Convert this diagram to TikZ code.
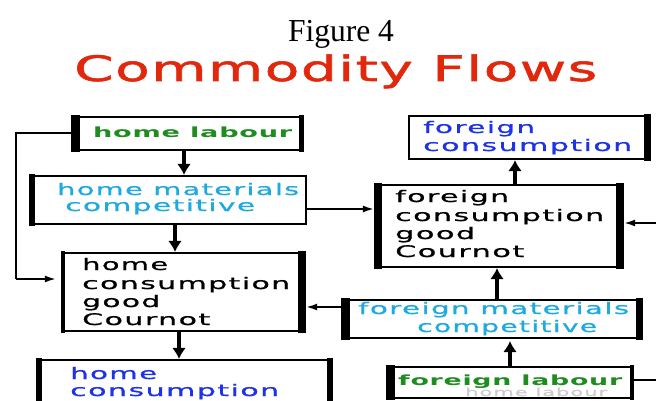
\documentclass[tikz,border=0pt]{standalone}
\usepackage{fontspec}
\usepackage{graphicx}
\usetikzlibrary{arrows.meta}
\setmainfont{Liberation Serif}
\newfontfamily\bxf[FakeStretch=1.5,LetterSpace=7,FakeBold=0.8]{DejaVu Sans}
\newfontfamily\lbf[FakeStretch=1.5,LetterSpace=4]{DejaVu Sans Bold}
\newfontfamily\ttlf[FakeStretch=1.5,LetterSpace=4,FakeBold=1.6]{DejaVu Sans}
\definecolor{ttlred}{RGB}{226,40,12}
\definecolor{labgreen}{RGB}{30,140,30}
\definecolor{matcyan}{RGB}{30,170,225}
\definecolor{conblue}{RGB}{30,50,230}
\newcommand\fw[2]{\resizebox{#1}{\height}{#2}}
\newcommand\sidebar[3]{\fill ([xshift=-#3pt,yshift=1.2pt]#1.north #2) rectangle ([xshift=#3pt,yshift=-1.2pt]#1.south #2);}
\tikzset{
  box/.style={draw, line width=2.2pt, inner sep=0pt, fill=white},
  tx/.style={inner sep=0pt, anchor=base west, font=\bxf\fontsize{16}{18}\selectfont},
  lab/.style={inner sep=0pt, anchor=base west, text=labgreen, font=\lbf\fontsize{14}{15}\selectfont},
  varrow/.style={line width=3.5pt, -{Latex[length=11pt,width=14pt]}},
  harrow/.style={line width=1.8pt, -{Latex[length=11pt,width=7pt]}},
}
\begin{document}
\begin{tikzpicture}[x=1pt,y=-1pt]
\useasboundingbox (0,0) rectangle (656,401);
\fill[white] (0,0) rectangle (656,401);
\clip (0,0) rectangle (656,401);

% titles
\node[inner sep=0pt, anchor=base, font=\fontsize{32}{32}\selectfont] (fig) at (341,42) {\fw{106pt}{Figure 4}};
\node[inner sep=0pt, anchor=base west, text=ttlred, font=\ttlf\fontsize{35}{35}\selectfont] (ttl) at (74,81) {\fw{523pt}{Commodity Flows}};

% boxes
\node[box, minimum width=223pt, minimum height=33pt] (hl) at (188.5,133.5) {};
\node[box, minimum width=273pt, minimum height=48pt] (hm) at (169.5,200) {};
\node[box, minimum width=237pt, minimum height=78pt] (hcg) at (182.5,292) {};
\node[box, minimum width=289pt, minimum height=60pt] (hc) at (184.5,390) {};
\node[box, minimum width=237pt, minimum height=43pt] (fc) at (527.5,137.5) {};
\node[box, minimum width=240pt, minimum height=82pt] (fcg) at (499,226) {};
\node[box, minimum width=291pt, minimum height=38pt] (fm) at (492.5,319) {};
\node[box, minimum width=239pt, minimum height=31pt] (fl) at (511.5,382.5) {};

% thick sides
\sidebar{hl}{west}{4.5}
\sidebar{hl}{east}{2.5}
\sidebar{hm}{west}{3}
\sidebar{hcg}{west}{2}
\sidebar{hcg}{east}{4}
\sidebar{hc}{west}{3}
\sidebar{hc}{east}{3}
\sidebar{fc}{east}{3.5}
\sidebar{fcg}{west}{4}
\sidebar{fcg}{east}{4}
\sidebar{fm}{west}{4.5}
\sidebar{fm}{east}{3.5}
\sidebar{fl}{west}{4.5}
\sidebar{fl}{east}{2}

% texts
\node[lab] (hl-t) at (93,138) {\fw{199pt}{home labour}};
\node[tx, text=matcyan] (hm-t1) at (57,195) {\fw{242pt}{home materials}};
\node[tx, text=matcyan] (hm-t2) at (65,211) {\fw{190pt}{competitive}};
\node[tx] (hcg-t1) at (82,270) {\fw{86pt}{home}};
\node[tx] (hcg-t2) at (82,289) {\fw{208pt}{consumption}};
\node[tx] (hcg-t3) at (82,307) {\fw{78pt}{good}};
\node[tx] (hcg-t4) at (82,325) {\fw{128pt}{Cournot}};
\node[tx, text=conblue] (hc-t1) at (70,379) {\fw{87pt}{home}};
\node[tx, text=conblue] (hc-t2) at (70,396) {\fw{209pt}{consumption}};
\node[tx, text=conblue] (fc-t1) at (423,133) {\fw{112pt}{foreign}};
\node[tx, text=conblue] (fc-t2) at (423,151) {\fw{209pt}{consumption}};
\node[tx] (fcg-t1) at (395,202) {\fw{114pt}{foreign}};
\node[tx] (fcg-t2) at (395,221) {\fw{209pt}{consumption}};
\node[tx] (fcg-t3) at (395,239) {\fw{80pt}{good}};
\node[tx] (fcg-t4) at (395,257) {\fw{129pt}{Cournot}};
\node[tx, text=matcyan] (fm-t1) at (358,314) {\fw{271pt}{foreign materials}};
\node[tx, text=matcyan] (fm-t2) at (417,332) {\fw{180pt}{competitive}};
\node[inner sep=0pt, anchor=base west, text=gray!40, font=\bxf\fontsize{11}{12}\selectfont] (ghost) at (465,396) {\fw{142pt}{home labour}};
\node[lab] (fl-t) at (398,385) {\fw{224pt}{foreign labour}};

% connector helper coordinates
\coordinate (xa) at (184,0);
\coordinate (xb) at (175,0);
\coordinate (xc) at (179,0);
\coordinate (xd) at (515,0);
\coordinate (xe) at (497,0);
\coordinate (xf) at (510,0);
\coordinate (ya) at (0,209);
\coordinate (yb) at (0,307);
\coordinate (yc) at (0,380);
\coordinate (yd) at (0,223);
\coordinate (lp1) at (16,133.5);
\coordinate (lp2) at (16,279);
\coordinate (rr1) at (662,380);
\coordinate (rr2) at (662,223);

% connectors
\draw[varrow] (hl.south -| xa) -- (hm.north -| xa);
\draw[varrow] (hm.south -| xb) -- (hcg.north -| xb);
\draw[varrow] (hcg.south -| xc) -- (hc.north -| xc);
\draw[varrow] (fcg.north -| xd) -- (fc.south -| xd);
\draw[varrow] (fm.north -| xe) -- (fcg.south -| xe);
\draw[varrow, shorten >=2pt] (fl.north -| xf) -- (fm.south -| xf);
\draw[harrow] (hm.east |- ya) -- ([xshift=-4pt]fcg.west |- ya);
\draw[harrow] (fm.west |- yb) -- ([xshift=4pt]hcg.east |- yb);
\draw[harrow] (rr2) -- ([xshift=4pt]fcg.east |- yd);
\draw[line width=1.8pt] (fl.east |- yc) -- (rr1);
\draw[line width=2pt] ([xshift=-4pt]hl.west) -- (lp1) -- (lp2);
\draw[harrow, shorten >=7pt] (lp2) -- (hcg.west |- lp2);
\end{tikzpicture}
\end{document}
